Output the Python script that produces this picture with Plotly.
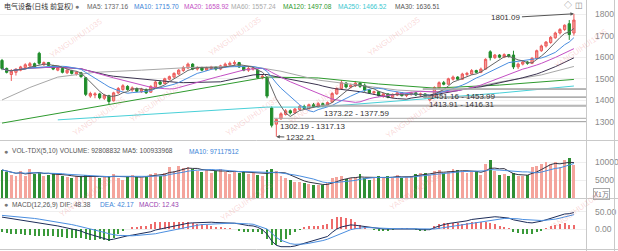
import plotly.graph_objects as go
import pandas as pd

W, H = 618, 251

# ---------------- data ----------------
open_ = [1585,1548,1520,1530,1540,1552,1560,1570,1618,1565,1575,1560,1540,1548,1528,1538,1522,1528,1505,1420,
         1425,1430,1410,1422,1398,1435,1450,1465,1448,1455,1440,1450,1438,1462,1485,1478,1498,1508,1522,1538,
         1550,1568,1545,1552,1540,1548,1555,1545,1558,1565,1570,1575,1555,1540,1545,1540,1505,1505,1365,1290,
         1315,1335,1352,1342,1358,1372,1362,1380,1370,1385,1378,1392,1430,1455,1480,1462,1468,1480,1470,1448,
         1435,1440,1420,1430,1415,1425,1435,1422,1428,1435,1425,1430,1402,1418,1458,1482,1475,1498,1508,1498,
         1520,1522,1538,1530,1545,1625,1598,1610,1600,1612,1610,1555,1568,1578,1572,1595,1630,1652,1668,1690,
         1712,1728,1755,1712]
high = [1592,1552,1545,1548,1560,1572,1578,1575,1625,1580,1578,1565,1555,1552,1545,1542,1535,1532,1508,1440,
        1438,1435,1430,1426,1440,1462,1475,1470,1465,1460,1458,1455,1470,1490,1492,1505,1515,1530,1545,1560,
        1575,1572,1558,1556,1556,1560,1558,1565,1575,1580,1585,1578,1560,1555,1555,1545,1518,1510,1372,1318,
        1345,1360,1358,1365,1378,1380,1385,1388,1392,1390,1395,1438,1460,1494,1485,1478,1490,1484,1478,1452,
        1445,1444,1435,1433,1432,1440,1438,1435,1440,1438,1436,1432,1425,1465,1488,1490,1505,1515,1512,1528,
        1532,1545,1542,1552,1595,1632,1615,1614,1618,1615,1630,1575,1585,1582,1600,1635,1658,1675,1698,1718,
        1735,1752,1772,1801.09]
low = [1540,1525,1490,1515,1535,1548,1555,1550,1565,1560,1558,1540,1535,1525,1522,1520,1515,1505,1420,1412,
       1410,1405,1402,1380,1395,1430,1445,1445,1440,1438,1435,1430,1435,1458,1470,1475,1492,1502,1518,1532,
       1545,1540,1538,1535,1536,1542,1538,1540,1552,1560,1562,1550,1535,1532,1538,1500,1498,1410,1275,1232.21,
       1310,1330,1335,1338,1352,1358,1358,1365,1366,1368,1372,1390,1426,1450,1455,1455,1462,1458,1440,1430,
       1425,1418,1412,1410,1410,1420,1418,1415,1422,1420,1418,1408,1395,1414,1455,1470,1472,1492,1495,1495,
       1510,1518,1525,1526,1542,1585,1592,1595,1596,1598,1545,1545,1562,1565,1568,1590,1625,1645,1662,1685,
       1705,1722,1680,1700]
close = [1548,1530,1535,1545,1555,1565,1570,1555,1572,1575,1562,1545,1550,1530,1540,1525,1530,1510,1428,1432,
         1430,1412,1425,1395,1435,1455,1468,1450,1458,1442,1452,1435,1465,1485,1475,1500,1510,1525,1540,1552,
         1568,1545,1552,1540,1550,1555,1545,1560,1568,1572,1575,1555,1540,1548,1550,1505,1512,1420,1285,1312,
         1338,1352,1342,1360,1372,1362,1380,1370,1385,1373,1390,1432,1455,1482,1462,1470,1480,1465,1448,1435,
         1440,1422,1430,1415,1428,1435,1422,1430,1435,1425,1430,1414,1418,1460,1482,1475,1500,1508,1498,1522,
         1525,1538,1530,1545,1590,1598,1610,1600,1612,1603,1555,1568,1578,1572,1595,1630,1652,1670,1692,1712,
         1728,1748,1705,1772]
volume = [7800,7200,6500,6000,7500,6200,8000,6800,7000,6000,6500,7000,6600,6000,5800,5500,6200,6000,
          6500,6000,5800,5500,5800,
          6200,6800,5500,5000,6000,6500,5800,5500,6000,6800,7000,6200,
          7000,8500,7500,8800,8300,8500,8000,7500,7200,7800,7000,7500,8000,7200,6800,
          7500,7000,7500,6800,7000,6500,6000,7800,
          8000,7500,6000,5500,5000,4500,
          4500,4200,3800,3600,3700,3500,4200,
          5500,5800,6000,5200,5500,5800,6800,5600,
          5000,5500,6000,5800,6000,5500,6500,5600,5800,6200,6800,7000,
          7000,6500,7500,7800,7000,7500,8000,7800,7500,7000,
          7200,7500,6500,9500,10500,
          7500,6500,6800,6000,7000,6200,6000,6500,
          8500,9000,9500,10000,9500,10000,8500,10500,
          11000,9281]
dif = [35,33,31,29,27,25,23,21,
       19,17,15,12,9,6,3,
       0,-3,-6,-12,-16,-19,-22,-26,-32,
       -30,-26,-22,-20,-18,-16,-14,-12,
       -8,-3,0,3,6,9,12,15,17,18,
       19,20,20,20,19,19,18,18,17,
       15,12,10,9,5,-2,-15,-35,
       -48,-52,-53,-52,-50,-46,-42,-38,-35,-32,-28,-22,-10,
       0,6,10,12,11,9,6,4,2,
       1,0,0,0,1,2,2,1,0,-2,-3,-2,
       4,9,13,16,18,20,21,24,28,
       30,32,34,35,36,35,34,32,27,
       24,21,19,18,20,23,27,31,
       35,39,44,45,48.38]
dea = [40,39,38,37,35,34,32,31,
       29,27,25,23,21,18,16,
       13,10,7,3,0,-3,-7,-10,-14,
       -17,-19,-19,-20,-20,-19,-18,-17,
       -16,-14,-11,-8,-5,-2,1,4,7,9,
       11,13,14,15,16,17,17,17,17,
       17,16,15,14,10,6,0,-12,
       -25,-33,-39,-43,-45,-45,-44,-42,-40,-37,-34,-30,-24,
       -18,-12,-6,-2,1,3,4,4,3,
       3,2,2,1,1,1,1,1,1,0,-1,-1,
       0,2,4,7,9,11,13,15,18,
       20,22,24,26,28,30,31,31,31,
       30,28,27,26,25,25,26,27,
       29,32,35,39,42.17]

ma60_idx = [0, 6, 12, 20, 30, 40, 53, 60, 68, 77, 85, 93, 100, 107, 116, 123]
ma60_val = [1402, 1460, 1508, 1530, 1540, 1552, 1560, 1535, 1494, 1468, 1448, 1439, 1455, 1485, 1518, 1557.24]
ma120_idx = [0, 57, 68, 81, 93, 107, 123]
ma120_val = [1295, 1508, 1504, 1476, 1457, 1471, 1497.08]
ma250_idx = [12, 32, 57, 68, 93, 107, 123]
ma250_val = [1310, 1337, 1369, 1369, 1411, 1434, 1466.52]

# gap zones: (start index, low, high)
gaps = [(59, 1302.19, 1317.13), (69, 1373.22, 1377.59), (91, 1413.91, 1416.31), (91, 1451.16, 1453.99)]

price_ticks = [1300, 1400, 1500, 1600, 1700, 1800]
vol_ticks = [5000, 10000]
vol_ticktext = ["5000", "10000"]
macd_ticks = [0, 50]
macd_ticktext = ["0.00", "50.00"]

header_items = [("电气设备(日线 前复权)", "#333333"), ("MA5: 1737.16", "#666666"), ("MA10: 1715.70", "#3d85d8"),
                ("MA20: 1658.92", "#c44fc4"), ("MA60: 1557.24", "#aaaaaa"), ("MA120: 1497.08", "#2e9a2e"),
                ("MA250: 1466.52", "#3cc8d0"), ("MA30: 1636.51", "#555555")]
header_x = [2, None, 85, 132, 182, 229, 281, 336, 393]

# ---------------- derived ----------------
n = len(close)
idx = list(range(n))
cs = pd.Series(close)
ma5 = cs.rolling(5, min_periods=1).mean()
ma10 = cs.rolling(10, min_periods=1).mean()
ma20 = cs.rolling(20, min_periods=1).mean()
ma30 = cs.rolling(30, min_periods=1).mean()
vs = pd.Series(volume)
vma5 = vs.rolling(5, min_periods=1).mean()
vma10 = vs.rolling(10, min_periods=1).mean()
hist = [2 * (a - b) for a, b in zip(dif, dea)]

UP_LINE, UP_FILL = "#ec5b5b", "#f39a96"
DN = "#1f8c2a"
VUP, VDN = "#f4a49c", "#2f8f35"

def px(x):
    return x / W

def py(y):
    return 1 - y / H

XR = [-0.43, 125.6]

fig = go.Figure()

# price
fig.add_trace(go.Candlestick(x=idx, open=open_, high=high, low=low, close=close,
                             increasing=dict(line=dict(color=UP_LINE, width=1), fillcolor=UP_FILL),
                             decreasing=dict(line=dict(color=DN, width=1), fillcolor=DN),
                             whiskerwidth=0, showlegend=False, hoverinfo="skip", xaxis="x", yaxis="y"))
for xs, ys, col in [(ma250_idx, ma250_val, "#48d0d8"), (ma120_idx, ma120_val, "#2e9a2e"),
                    (ma60_idx, ma60_val, "#a8a8a8"), (idx, ma30, "#3b3350"), (idx, ma20, "#c44fc4"),
                    (idx, ma10, "#4a8ee0"), (idx, ma5, "#666666")]:
    fig.add_trace(go.Scatter(x=xs, y=ys, mode="lines", line=dict(color=col, width=1),
                             showlegend=False, hoverinfo="skip", xaxis="x", yaxis="y"))

# volume
vcols = [VUP if c >= o else VDN for o, c in zip(open_, close)]
fig.add_trace(go.Bar(x=idx, y=volume, marker=dict(color=vcols, line=dict(width=0)), width=0.62,
                     showlegend=False, hoverinfo="skip", xaxis="x", yaxis="y2"))
fig.add_trace(go.Scatter(x=idx, y=vma5, mode="lines", line=dict(color="#333344", width=1),
                         showlegend=False, hoverinfo="skip", xaxis="x", yaxis="y2"))
fig.add_trace(go.Scatter(x=idx, y=vma10, mode="lines", line=dict(color="#4a8ee0", width=1),
                         showlegend=False, hoverinfo="skip", xaxis="x", yaxis="y2"))

# macd
hcols = ["#ee6b6b" if h >= 0 else "#3a9a3a" for h in hist]
fig.add_trace(go.Bar(x=idx, y=hist, marker=dict(color=hcols, line=dict(width=0)), width=0.22,
                     showlegend=False, hoverinfo="skip", xaxis="x", yaxis="y3"))
fig.add_trace(go.Scatter(x=idx, y=dif, mode="lines", line=dict(color="#1d2d5a", width=1),
                         showlegend=False, hoverinfo="skip", xaxis="x", yaxis="y3"))
fig.add_trace(go.Scatter(x=idx, y=dea, mode="lines", line=dict(color="#4a8ee0", width=1),
                         showlegend=False, hoverinfo="skip", xaxis="x", yaxis="y3"))

axis_common = dict(side="right", showgrid=True, gridcolor="#efefef", zeroline=False,
                   tickfont=dict(size=8.5, color="#8a8a8a", family="Liberation Sans, Arial"),
                   ticks="", ticklabelstandoff=8, showline=False, fixedrange=True)

fig.update_layout(
    width=W, height=H, margin=dict(l=0, r=0, t=0, b=0),
    paper_bgcolor="white", plot_bgcolor="white", showlegend=False, bargap=0,
    font=dict(family="Liberation Sans, Arial, Noto Sans CJK SC", size=8, color="#333"),
    xaxis=dict(domain=[0, px(586)], range=XR, showgrid=False, zeroline=False, showticklabels=False,
               ticks="", showline=False, rangeslider=dict(visible=False), anchor="y"),
    yaxis=dict(domain=[py(140), 1], range=[1216.7, 1864.8], tickvals=price_ticks, anchor="x", **axis_common),
    yaxis2=dict(domain=[py(198), py(141)], range=[0, 15833], tickvals=vol_ticks, ticktext=vol_ticktext,
                anchor="x", **axis_common),
    yaxis3=dict(domain=[py(249), py(199)], range=[-58.8, 88.2], tickvals=macd_ticks, ticktext=macd_ticktext,
                anchor="x", **axis_common),
)

shapes = []
line_gray = dict(color="#c9c9c9", width=1)
shapes.append(dict(type="line", xref="paper", yref="paper", x0=px(586.5), x1=px(586.5), y0=0, y1=1, line=line_gray))
shapes.append(dict(type="line", xref="paper", yref="paper", x0=px(614.5), x1=px(614.5), y0=0, y1=1, line=line_gray))
for yy in (140.5, 198.5, 249.5):
    shapes.append(dict(type="line", xref="paper", yref="paper", x0=0, x1=1, y0=py(yy), y1=py(yy), line=line_gray))
for start, lo, hi in gaps:
    for v in (lo, hi):
        shapes.append(dict(type="line", xref="x", yref="y", x0=start - 0.5, x1=XR[1], y0=v, y1=v,
                           line=dict(color="#a9a9a9", width=1)))
fig.update_layout(shapes=shapes)

ann = []
lab_font = dict(size=8, color="#333333", family="Liberation Sans, Arial")
# header
ann.append(dict(xref="paper", yref="paper", x=px(2), y=py(6.5), xanchor="left", yanchor="middle",
                text=header_items[0][0], showarrow=False,
                font=dict(size=7, color=header_items[0][1], family="Noto Sans CJK SC")))
ann.append(dict(xref="paper", yref="paper", x=px(72.5), y=py(6.5), xanchor="left", yanchor="middle",
                text="●", showarrow=False, font=dict(size=7, color="#777777")))
for (t, c), xx in zip(header_items[1:], header_x[2:]):
    ann.append(dict(xref="paper", yref="paper", x=px(xx), y=py(6.5), xanchor="left", yanchor="middle",
                    text=t, showarrow=False, font=dict(size=6.6, color=c, family="Liberation Sans, Arial")))
ann.append(dict(xref="paper", yref="paper", x=px(562), y=py(6), xanchor="left", yanchor="middle",
                text="◇", showarrow=False, font=dict(size=8, color="#888888")))
ann.append(dict(xref="paper", yref="paper", x=px(573), y=py(6), xanchor="left", yanchor="middle",
                text="◫", showarrow=False, font=dict(size=8, color="#888888")))

# volume header
ann.append(dict(xref="paper", yref="paper", x=px(1.5), y=py(151), xanchor="left", yanchor="middle",
                text="●", showarrow=False, font=dict(size=7, color="#777777")))
ann.append(dict(xref="paper", yref="paper", x=px(10), y=py(151), xanchor="left", yanchor="middle",
                text="VOL-TDX(5,10) VOLUME: 92808832 MA5: 100933968", showarrow=False,
                font=dict(size=6.6, color="#555555", family="Liberation Sans, Arial")))
ann.append(dict(xref="paper", yref="paper", x=px(187), y=py(151), xanchor="left", yanchor="middle",
                text="MA10: 97117512", showarrow=False,
                font=dict(size=6.6, color="#3d85d8", family="Liberation Sans, Arial")))
# macd header
ann.append(dict(xref="paper", yref="paper", x=px(1.5), y=py(204.5), xanchor="left", yanchor="middle",
                text="●", showarrow=False, font=dict(size=7, color="#777777")))
ann.append(dict(xref="paper", yref="paper", x=px(10), y=py(204.5), xanchor="left", yanchor="middle",
                text="MACD(12,26,9) DIF: 48.38", showarrow=False,
                font=dict(size=6.6, color="#555555", family="Liberation Sans, Arial")))
ann.append(dict(xref="paper", yref="paper", x=px(98), y=py(204.5), xanchor="left", yanchor="middle",
                text="DEA: 42.17", showarrow=False,
                font=dict(size=6.6, color="#3d85d8", family="Liberation Sans, Arial")))
ann.append(dict(xref="paper", yref="paper", x=px(137), y=py(204.5), xanchor="left", yanchor="middle",
                text="MACD: 12.43", showarrow=False,
                font=dict(size=6.6, color="#9a3fb0", family="Liberation Sans, Arial")))
# unit box
ann.append(dict(xref="paper", yref="paper", x=px(601), y=py(194), xanchor="center", yanchor="middle",
                text="X1万", showarrow=False, bordercolor="#aaaaaa", borderwidth=1, borderpad=0,
                font=dict(size=7, color="#777777", family="Noto Sans CJK SC")))

# gap labels
ann.append(dict(xref="x", yref="y", x=59.4, y=1302.19, xanchor="left", yanchor="top", yshift=2,
                text="1302.19 - 1317.13", showarrow=False, font=lab_font))
ann.append(dict(xref="x", yref="y", x=68.8, y=1373.22, xanchor="left", yanchor="top", yshift=-1,
                text="1373.22 - 1377.59", showarrow=False, font=lab_font))
ann.append(dict(xref="x", yref="y", x=91.4, y=1413.91, xanchor="left", yanchor="top", yshift=-1,
                text="1413.91 - 1416.31", showarrow=False, font=lab_font))
ann.append(dict(xref="x", yref="y", x=91.6, y=1451.16, xanchor="left", yanchor="top", yshift=-1,
                text="1451.16 - 1453.99", showarrow=False, font=lab_font))
# extremes
ann.append(dict(xref="x", yref="y", x=59, y=1232.21, ax=24, ay=1, text="1232.21", showarrow=True,
                arrowhead=2, arrowsize=0.7, arrowwidth=1, arrowcolor="#555555", font=lab_font))
ann.append(dict(xref="x", yref="y", x=123, y=1801.09, ax=-68, ay=4, text="1801.09", showarrow=True,
                arrowhead=2, arrowsize=0.7, arrowwidth=1, arrowcolor="#555555", font=lab_font))

# watermarks
wm = [(45, 14), (235, 12), (425, 12), (612, 24), (125, 78), (315, 80), (68, 116), (252, 116),
      (443, 118), (55, 222), (247, 226), (447, 215), (606, 236)]
for (wx, wy) in wm:
    ann.append(dict(xref="paper", yref="paper", x=px(wx), y=py(wy), text="YANGUIHUI1035", showarrow=False,
                    textangle=-35, font=dict(size=8, color="rgba(235,120,120,0.28)",
                                             family="Liberation Sans, Arial")))
fig.update_layout(annotations=ann)

fig.write_html("out.html")
